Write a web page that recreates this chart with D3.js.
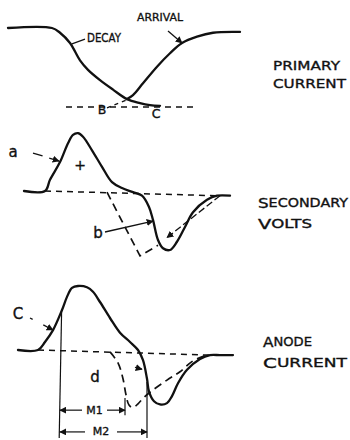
<!DOCTYPE html>
<html>
<head>
<meta charset="utf-8">
<script src="https://cdn.jsdelivr.net/npm/d3@7"></script>
<style>
  html, body { margin: 0; padding: 0; background: #fff; }
  svg { display: block; }
  text { font-family: "DejaVu Sans", sans-serif; fill: #111; stroke: #111; stroke-width: 0.35px; }
</style>
</head>
<body>
<svg id="chart" width="350" height="440"></svg>
<script>
// ---- time axis shared by all three traces (arbitrary units) ----
const timeDomain = [0, 115];

// ---- primary current: decay of the old pulse and arrival of the new one ----
const primaryDecay = [[-1, 1], [21, 1], [25, 0.94], [30, 0.81], [35, 0.59], [39, 0.47], [45, 0.34],
  [51.5, 0.22], [58.5, 0.10], [65, 0.05], [70, 0.025], [75, 0.015]];
const primaryArrival = [[58.5, 0.10], [61.5, 0.15], [66.5, 0.30], [73.5, 0.51], [80, 0.68], [86, 0.81],
  [93.5, 0.89], [101.5, 0.94], [115, 0.95]];
const primaryBaseline = [[28, 0], [92.5, 0]];

// ---- secondary volts ----
const secondaryVolts = [[7, 0], [17.5, 0], [20, 0.19], [25, 0.49], [29, 0.81], [31.5, 0.95], [34, 0.98],
  [36.5, 0.92], [41, 0.69], [46, 0.41], [51, 0.15], [56, 0.05], [61.5, -0.02], [66, -0.08], [69.5, -0.27],
  [71.5, -0.49], [74, -0.83], [76.5, -0.97], [80, -1.0], [83.5, -0.86], [87.5, -0.61], [91.5, -0.36],
  [98.5, -0.15], [103.5, -0.08], [110, -0.08]];
const secondaryShifted = [[48.5, -0.02], [65, -1.10], [74, -0.92]];
const secondaryReturn = [[105, -0.08], [78.5, -0.79]];
const secondaryBaseline = [[17.5, 0], [103.5, -0.08]];

// ---- anode current ----
const anodeCurrent = [[4, 0], [14, 0], [17.5, 0.125], [21.5, 0.31], [26, 0.625], [28.5, 0.83], [31, 0.97],
  [34, 1.0], [38.5, 0.98], [41.5, 0.91], [45, 0.75], [50, 0.5], [55, 0.27], [60, 0.125], [64, 0],
  [66.5, -0.16], [68.5, -0.45], [69.5, -0.65], [72, -0.8], [75, -0.85], [78.5, -0.83], [81, -0.72],
  [84, -0.52], [88.5, -0.31], [95, -0.14], [100, -0.08], [105, -0.08], [111.5, -0.08]];
const anodeShifted = [[50, -0.03], [54, -0.2], [56.5, -0.45], [58, -0.7], [59.5, -0.86], [61.5, -0.9],
  [64, -0.84], [67, -0.74], [70, -0.66], [78.5, -0.47], [85, -0.34], [91.5, -0.17], [98.5, -0.08]];
const anodeBaseline = [[14, 0], [100, -0.08]];

// ---- interval markers on the anode trace ----
const markerStart = 25;
const markerM1 = 57.5;
const markerM2 = 68.5;
const markerNames = ["M1", "M2"];

// ---- trace titles ----
const traceTitles = [["PRIMARY", "CURRENT"], ["SECONDARY", "VOLTS"], ["ANODE", "CURRENT"]];

// ================== drawing ==================
const svg = d3.select("#chart");

const x = d3.scaleLinear().domain(timeDomain).range([10, 240]);
const yPrimary = d3.scaleLinear().domain([0, 1]).range([107, 28]);
const ySecondary = d3.scaleLinear().domain([-1, 1]).range([250, 132]);
const yAnode = d3.scaleLinear().domain([-1, 1]).range([414, 286]);

const defs = svg.append("defs");
defs.append("marker")
  .attr("id", "head")
  .attr("viewBox", "0 0 10 10")
  .attr("refX", 9).attr("refY", 5)
  .attr("markerWidth", 7).attr("markerHeight", 7)
  .attr("markerUnits", "userSpaceOnUse")
  .attr("orient", "auto-start-reverse")
  .append("path")
  .attr("d", "M0,0 L10,5 L0,10 Z")
  .attr("fill", "#111");

function smooth(y) {
  return d3.line().x(d => x(d[0])).y(d => y(d[1])).curve(d3.curveCatmullRom.alpha(0.5));
}
function straight(y) {
  return d3.line().x(d => x(d[0])).y(d => y(d[1]));
}

const solidStyle = g => g.attr("fill", "none").attr("stroke", "#111").attr("stroke-width", 2.3)
  .attr("stroke-linecap", "round").attr("stroke-linejoin", "round");
const dashStyle = g => g.attr("fill", "none").attr("stroke", "#111").attr("stroke-width", 1.5)
  .attr("stroke-dasharray", "6,5");

function label(txt, px, py, size, anchor) {
  return svg.append("text")
    .attr("x", px).attr("y", py)
    .attr("font-size", size)
    .attr("text-anchor", anchor || "start")
    .attr("dominant-baseline", "central")
    .text(txt);
}

// ---------- primary current ----------
svg.append("path").datum(primaryBaseline).attr("d", straight(yPrimary)).call(dashStyle);
svg.append("path").datum(primaryDecay).attr("d", smooth(yPrimary)).call(solidStyle);
svg.append("path").datum(primaryArrival).attr("d", smooth(yPrimary)).call(solidStyle);

label("DECAY", x(38.5), yPrimary(0.873), 11.5).attr("textLength", 34).attr("lengthAdjust", "spacingAndGlyphs");
svg.append("path").datum([[31, 0.80], [37.5, 0.86]]).attr("d", straight(yPrimary))
  .attr("stroke", "#111").attr("stroke-width", 1.3).attr("fill", "none");
label("ARRIVAL", x(63.5), yPrimary(1.127), 11).attr("textLength", 46).attr("lengthAdjust", "spacingAndGlyphs");
svg.append("path").datum([[79, 0.962], [86, 0.81]]).attr("d", straight(yPrimary))
  .attr("stroke", "#111").attr("stroke-width", 1.3).attr("fill", "none").attr("marker-end", "url(#head)");

label("B", x(46), yPrimary(-0.03), 12.5, "middle");
svg.append("path").datum([[48.5, -0.01], [58.5, 0.09]]).attr("d", straight(yPrimary))
  .attr("fill", "none").attr("stroke", "#111").attr("stroke-width", 1.3).attr("stroke-dasharray", "4,4");
label("C", x(73), yPrimary(-0.076), 12.5, "middle");

// ---------- secondary volts ----------
svg.append("path").datum(secondaryBaseline).attr("d", straight(ySecondary)).call(dashStyle);
svg.append("path").datum(secondaryShifted).attr("d", straight(ySecondary)).call(dashStyle)
  .attr("stroke-width", 1.7).attr("stroke-dasharray", "8,5");
svg.append("path").datum(secondaryVolts).attr("d", smooth(ySecondary)).call(solidStyle);
svg.append("path").datum(secondaryReturn).attr("d", straight(ySecondary))
  .attr("fill", "none").attr("stroke", "#111").attr("stroke-width", 1.3)
  .attr("stroke-dasharray", "7,3").attr("marker-end", "url(#head)");

label("a", x(1.5), ySecondary(0.66), 15, "middle");
svg.append("path").datum([[11.5, 0.644], [24.5, 0.508]]).attr("d", straight(ySecondary))
  .attr("fill", "none").attr("stroke", "#111").attr("stroke-width", 1.3)
  .attr("stroke-dasharray", "10,7,40").attr("marker-end", "url(#head)");
label("+", x(35), ySecondary(0.44), 14, "middle");
label("b", x(44), ySecondary(-0.71), 15, "middle");
svg.append("path").datum([[47.5, -0.695], [71.5, -0.51]]).attr("d", straight(ySecondary))
  .attr("fill", "none").attr("stroke", "#111").attr("stroke-width", 1.3).attr("marker-end", "url(#head)");

// ---------- anode current ----------
svg.append("path").datum(anodeBaseline).attr("d", straight(yAnode)).call(dashStyle);
svg.append("path").datum(anodeShifted).attr("d", smooth(yAnode)).call(dashStyle)
  .attr("stroke-width", 1.7).attr("stroke-dasharray", "8,5");
svg.append("path").datum(anodeCurrent).attr("d", smooth(yAnode)).call(solidStyle);

label("C", x(4), yAnode(0.5625), 15, "middle");
svg.append("path").datum([[10, 0.5], [21.5, 0.3125]]).attr("d", straight(yAnode))
  .attr("fill", "none").attr("stroke", "#111").attr("stroke-width", 1.3)
  .attr("stroke-dasharray", "3,12,40").attr("marker-end", "url(#head)");
label("d", x(42.5), yAnode(-0.42), 15, "middle");
svg.append("path").datum([[62.5, -0.27], [66, -0.30]]).attr("d", straight(yAnode))
  .attr("fill", "none").attr("stroke", "#111").attr("stroke-width", 1.3).attr("marker-end", "url(#head)");

// reference lines for the intervals
const thin = p => p.attr("fill", "none").attr("stroke", "#111").attr("stroke-width", 1.2);
svg.append("path").datum([[markerStart + 0.8, 0.6], [markerStart - 0.4, -1.375]]).attr("d", straight(yAnode)).call(thin);
svg.append("path").datum([[markerM1, -0.75], [markerM1, -1.02]]).attr("d", straight(yAnode)).call(thin);
svg.append("path").datum([[markerM2, -0.5], [markerM2, -1.375]]).attr("d", straight(yAnode)).call(thin);

// dimension arrows, broken around their names
const dims = [
  { name: markerNames[0], end: markerM1, level: -0.94, gapL: 36, gapR: 48.5, mid: 42.2 },
  { name: markerNames[1], end: markerM2, level: -1.28, gapL: 37.5, gapR: 53.5, mid: 45.5 }
];
dims.forEach(d => {
  svg.append("path").datum([[d.gapL, d.level], [markerStart, d.level]]).attr("d", straight(yAnode))
    .call(thin).attr("marker-end", "url(#head)");
  svg.append("path").datum([[d.gapR, d.level], [d.end, d.level]]).attr("d", straight(yAnode))
    .call(thin).attr("marker-end", "url(#head)");
  label(d.name, x(d.mid), yAnode(d.level), 11, "middle");
});

// ---------- trace titles ----------
function title(words, px, py, widths) {
  words.forEach((w, i) => {
    const t = svg.append("text")
      .attr("x", px).attr("y", py + i * 21)
      .attr("dominant-baseline", "central")
      .attr("textLength", widths[i]).attr("lengthAdjust", "spacingAndGlyphs");
    t.append("tspan").attr("font-size", 14).text(w[0]);
    t.append("tspan").attr("font-size", 12).text(w.slice(1));
  });
}
traceTitles[0].forEach((w, i) => {
  svg.append("text")
    .attr("x", 273).attr("y", 65 + i * 18)
    .attr("dominant-baseline", "central")
    .attr("font-size", 12.5)
    .attr("textLength", i === 0 ? 67 : 73).attr("lengthAdjust", "spacingAndGlyphs")
    .text(w);
});
title(traceTitles[1], 258, 203, [90, 54]);
title(traceTitles[2], 263, 342, [49, 84]);
</script>
</body>
</html>
